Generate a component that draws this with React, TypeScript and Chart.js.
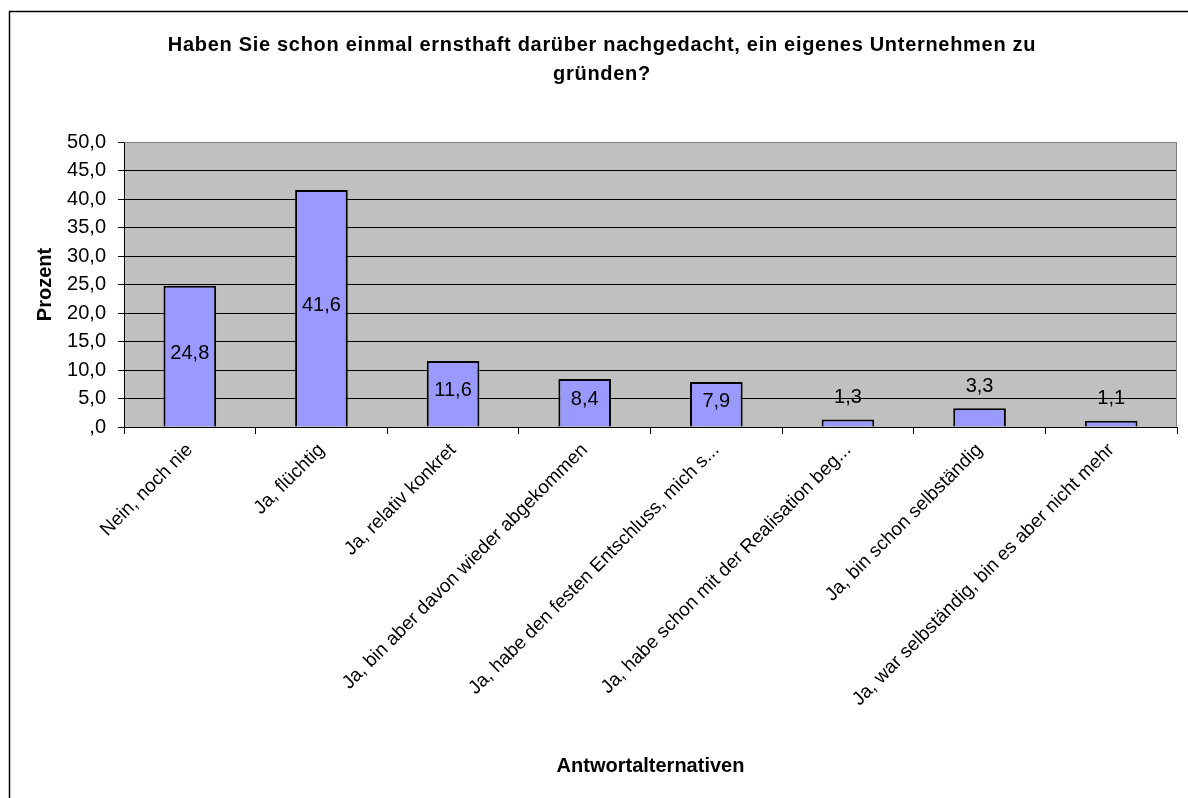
import { useEffect, useRef } from "react";
import { Chart, registerables } from "chart.js";

Chart.register(...registerables);

const categories = [
  "Nein, noch nie",
  "Ja, flüchtig",
  "Ja, relativ konkret",
  "Ja, bin aber davon wieder abgekommen",
  "Ja, habe den festen Entschluss, mich s...",
  "Ja, habe schon mit der Realisation beg...",
  "Ja, bin schon selbständig",
  "Ja, war selbständig, bin es aber nicht mehr",
];
const values = [24.8, 41.6, 11.6, 8.4, 7.9, 1.3, 3.3, 1.1];
const valueLabels = ["24,8", "41,6", "11,6", "8,4", "7,9", "1,3", "3,3", "1,1"];
const yTickLabels = [",0", "5,0", "10,0", "15,0", "20,0", "25,0", "30,0", "35,0", "40,0", "45,0", "50,0"];
const titleLines = [
  "Haben Sie schon einmal ernsthaft darüber nachgedacht, ein eigenes Unternehmen zu",
  "gründen?",
];
const xAxisTitle = "Antwortalternativen";
const yAxisTitle = "Prozent";

const FONT = '"Liberation Sans", Arial, sans-serif';

const decorPlugin = {
  id: "decor",
  beforeDraw(chart: any) {
    const { ctx, chartArea: a, width, height } = chart;
    ctx.save();
    ctx.fillStyle = "#ffffff";
    ctx.fillRect(0, 0, width, height);
    ctx.strokeStyle = "#000000";
    ctx.lineWidth = 1.5;
    ctx.strokeRect(9.5, 11.5, width + 40, height + 40);
    ctx.fillStyle = "#C0C0C0";
    ctx.fillRect(a.left, a.top, a.right - a.left, a.bottom - a.top);
    ctx.restore();
  },
  beforeDatasetsDraw(chart: any) {
    const { ctx, chartArea: a } = chart;
    ctx.save();
    ctx.strokeStyle = "#808080";
    ctx.lineWidth = 1;
    ctx.beginPath();
    ctx.moveTo(a.left, a.top + 0.5);
    ctx.lineTo(a.right - 0.5, a.top + 0.5);
    ctx.lineTo(a.right - 0.5, a.bottom);
    ctx.stroke();
    ctx.restore();
  },
  afterDatasetsDraw(chart: any) {
    const { ctx } = chart;
    const meta = chart.getDatasetMeta(0);
    ctx.save();
    ctx.font = `20px ${FONT}`;
    ctx.fillStyle = "#000000";
    ctx.textAlign = "center";
    ctx.textBaseline = "middle";
    meta.data.forEach((el: any, i: number) => {
      const v = values[i];
      const y = v >= 5 ? (el.y + el.base) / 2 - 3 : el.y - 22;
      ctx.fillText(valueLabels[i], el.x, y);
    });
    ctx.restore();
  },
  afterDraw(chart: any) {
    const { ctx } = chart;
    ctx.save();
    ctx.font = `bold 20px ${FONT}`;
    (ctx as any).letterSpacing = "0.7px";
    ctx.fillStyle = "#000000";
    ctx.textAlign = "center";
    ctx.textBaseline = "alphabetic";
    ctx.fillText(titleLines[0], 602, 51);
    ctx.fillText(titleLines[1], 602, 80);
    ctx.restore();
  },
};

export default function App() {
  const ref = useRef<HTMLCanvasElement>(null);

  useEffect(() => {
    document.body.style.margin = "0";
    const canvas = ref.current;
    if (!canvas) return;
    const chart = new Chart(canvas, {
      type: "bar",
      data: {
        labels: categories,
        datasets: [
          {
            data: values,
            backgroundColor: "#9999FF",
            borderColor: "#000000",
            borderWidth: 2,
            barPercentage: 0.4,
            categoryPercentage: 1,
          },
        ],
      },
      options: {
        responsive: false,
        animation: false,
        devicePixelRatio: 1,
        layout: { padding: { left: 0, right: 11, top: 142, bottom: 0 } },
        plugins: {
          legend: { display: false },
          tooltip: { enabled: false },
          title: { display: false },
        },
        scales: {
          x: {
            offset: true,
            afterFit(scale: any) {
              scale.height = 371;
            },
            grid: {
              display: true,
              drawOnChartArea: false,
              drawTicks: true,
              tickLength: 7,
              color: "#000000",
              offset: true,
            },
            border: { display: true, color: "#000000", width: 1 },
            ticks: {
              autoSkip: false,
              minRotation: 45,
              maxRotation: 45,
              padding: 5,
              color: "#000000",
              font: { family: FONT, size: 19 },
            },
            title: {
              display: true,
              text: xAxisTitle,
              color: "#000000",
              font: { family: FONT, size: 20, weight: "bold" },
              padding: { top: 0, bottom: 20 },
            },
          },
          y: {
            min: 0,
            max: 50,
            afterFit(scale: any) {
              scale.width = 124;
            },
            grid: {
              color: (c: any) => (c.tick && c.tick.value === 50 ? "#808080" : "#000000"),
              tickColor: "#000000",
              tickLength: 6,
              lineWidth: 1,
            },
            border: { display: true, color: "#000000", width: 1 },
            ticks: {
              stepSize: 5,
              padding: 12,
              color: "#000000",
              font: { family: FONT, size: 20 },
              callback: (_v: any, i: number) => yTickLabels[i],
            },
            title: {
              display: true,
              text: yAxisTitle,
              color: "#000000",
              font: { family: FONT, size: 20, weight: "bold" },
              padding: { top: 33, bottom: 0 },
            },
          },
        },
      },
      plugins: [decorPlugin],
    });
    return () => chart.destroy();
  }, []);

  return (
    <div style={{ width: 1188, height: 798, position: "relative", overflow: "hidden" }}>
      <canvas ref={ref} width={1188} height={798} style={{ display: "block" }} />
    </div>
  );
}
